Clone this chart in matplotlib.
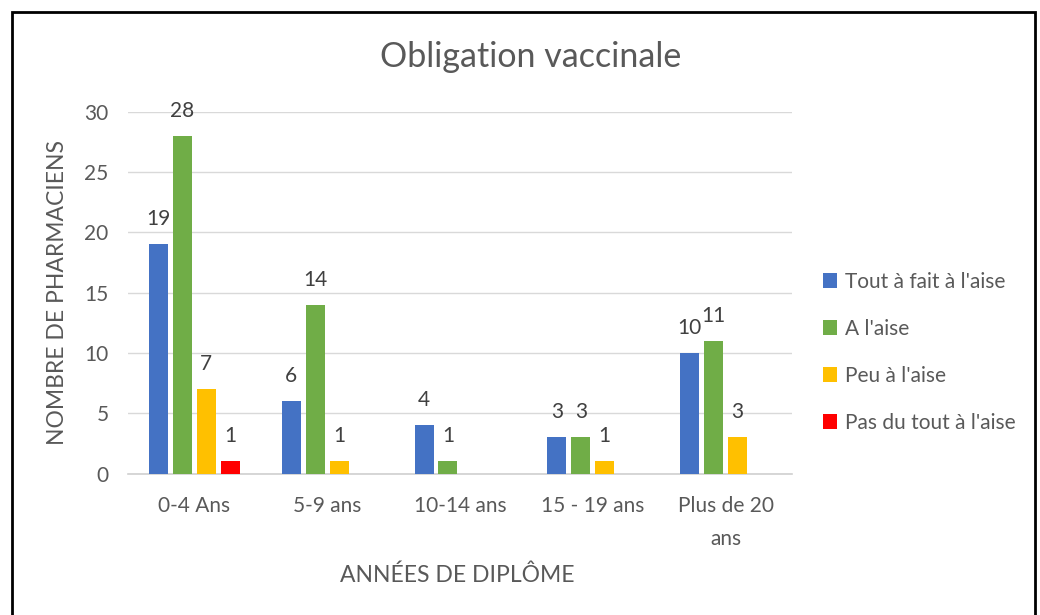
import matplotlib.pyplot as plt
from matplotlib.patches import Rectangle
import numpy as np

plt.rcParams['font.family'] = ['Lato', 'DejaVu Sans']

categories = ["0-4 Ans", "5-9 ans", "10-14 ans", "15 - 19 ans", "Plus de 20\nans"]
series_names = ["Tout à fait à l'aise", "A l'aise", "Peu à l'aise", "Pas du tout à l'aise"]
tout_a_fait = [19, 6, 4, 3, 10]
a_l_aise = [28, 14, 1, 3, 11]
peu = [7, 1, 0, 1, 3]
pas_du_tout = [1, 0, 0, 0, 0]
colors = ["#4472C4", "#70AD47", "#FFC000", "#FF0000"]

grey = "#595959"
fig = plt.figure(figsize=(10.4, 6.15), dpi=100)
ax = fig.add_axes([0.123, 0.23, 0.6385, 0.5884])

x = np.arange(len(categories))
step = 0.18
width = 0.143
all_series = [tout_a_fait, a_l_aise, peu, pas_du_tout]
for k, (vals, name, col) in enumerate(zip(all_series, series_names, colors)):
    pos = x + (k - 1.5) * step
    ax.bar(pos, vals, width, color=col, label=name, zorder=3)
    for px, v in zip(pos, vals):
        if v > 0:
            ax.annotate(str(v), (px, v), xytext=(0, 18), textcoords="offset points",
                        ha="center", va="center", fontsize=15, color="#404040")

ax.set_xlim(-0.5, 4.5)
ax.set_ylim(0, 30)
ax.set_yticks(range(0, 31, 5))
ax.yaxis.grid(True, color="#D9D9D9", linewidth=1, zorder=0)
for s in ["top", "right", "left"]:
    ax.spines[s].set_visible(False)
ax.spines["bottom"].set_color("#D0D0D0")
ax.spines["bottom"].set_linewidth(1.2)
ax.tick_params(axis="both", length=0, labelsize=15, labelcolor=grey)
ax.tick_params(axis="x", pad=16)
ax.tick_params(axis="y", pad=14)
ax.set_xticks(x)
ax.set_xticklabels(categories, linespacing=1.85)

ax.set_ylabel("NOMBRE DE PHARMACIENS", fontsize=16.5, color=grey, labelpad=12)
fig.text(0.44, 0.065, "ANNÉES DE DIPLÔME", fontsize=16.5, color=grey, ha="center", va="center")
fig.text(0.51, 0.907, "Obligation vaccinale", fontsize=24.5, color=grey, ha="center", va="center")

ax.legend(loc="center left", bbox_to_anchor=(1.018, 0.335), frameon=False, fontsize=15,
          handlelength=0.7, handleheight=0.7, handletextpad=0.35, labelspacing=1.3,
          labelcolor=grey)

fig.patches.append(Rectangle((12 / 1040, -0.01), 1023 / 1040, 1 - 12 / 615 + 0.01,
                             transform=fig.transFigure, fill=False,
                             edgecolor="black", linewidth=2))

fig.savefig("out.png", dpi=100)
